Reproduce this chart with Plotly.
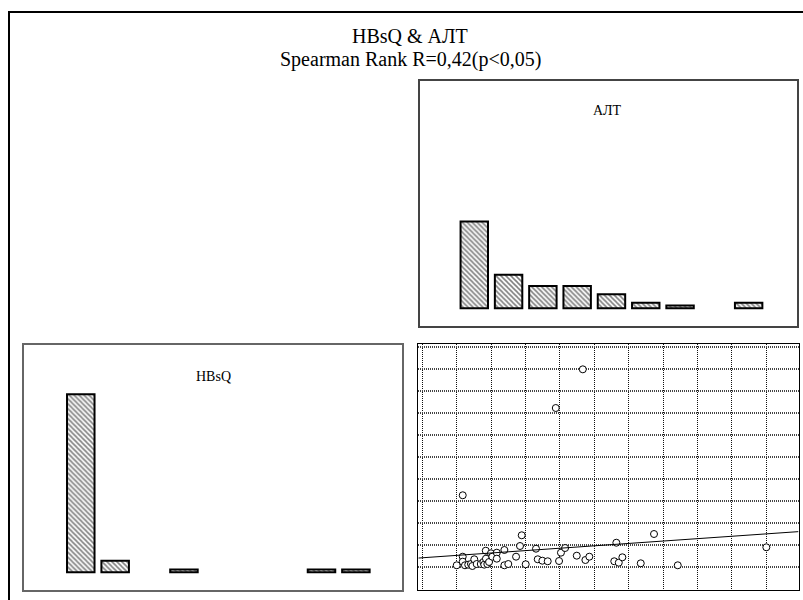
import plotly.graph_objects as go

# ---------------- data ----------------
alt_bins = [1, 2, 3, 4, 5, 6, 7, 8, 9]
alt_counts = [31, 12, 8, 8, 5, 2, 1, None, 2]

hbsq_bins = [1, 2, 3, 4, 5, 6, 7, 8, 9]
hbsq_counts = [62, 4, None, 1, None, None, None, 1, 1]

# scatter: x = АЛТ, y = HBsQ
alt_vals = [23.5, 93.3, 77.6, 20.0, 23.5, 23.5, 24.8, 26.7, 28.3, 29.1, 30.2, 31.6,
            34.0, 35.5, 36.0, 36.9, 37.0, 37.8, 38.8, 39.9, 40.7, 43.3, 43.3, 47.7,
            47.7, 50.0, 54.5, 56.8, 57.8, 60.1, 66.1, 67.1, 69.8, 72.9, 79.5, 80.6,
            83.0, 89.8, 94.8, 97.1, 111.6, 112.8, 114.2, 116.3, 127.0, 134.7, 148.5, 200.0]
hbsq_vals = [2131, 4986, 4109, 544, 739, 626, 544, 558, 573, 528, 680, 573,
             573, 619, 558, 875, 694, 573, 619, 816, 739, 830, 694, 891,
             544, 573, 739, 981, 1224, 567, 920, 680, 648, 635, 641, 830,
             936, 762, 664, 739, 635, 1056, 603, 725, 589, 1253, 544, 952]

fit_intercept = 714.5
fit_slope = 2.708
fit_x = [-2.3, 218.7]

title_line1 = "HBsQ & АЛТ"
title_line2 = "Spearman Rank R=0,42(p<0,05)"

W, H = 803, 600


def fx(px):
    return px / W


def fy(py):
    return 1 - py / H


fig = go.Figure()

bar_style = dict(
    marker=dict(color="white", line=dict(color="black", width=2),
                pattern=dict(shape="\\", fgcolor="black", bgcolor="white",
                             size=3.5, solidity=0.45)),
    width=0.8, showlegend=False, hoverinfo="skip",
)

fig.add_trace(go.Bar(x=alt_bins, y=alt_counts, xaxis="x", yaxis="y", **bar_style))
fig.add_trace(go.Bar(x=hbsq_bins, y=hbsq_counts, xaxis="x2", yaxis="y2", **bar_style))

fig.add_trace(go.Scatter(
    x=alt_vals, y=hbsq_vals, mode="markers", xaxis="x3", yaxis="y3",
    marker=dict(symbol="circle", size=7, color="white",
                line=dict(color="black", width=1)),
    showlegend=False, hoverinfo="skip", cliponaxis=False))

fig.add_trace(go.Scatter(
    x=fit_x, y=[fit_intercept + fit_slope * v for v in fit_x],
    mode="lines", xaxis="x3", yaxis="y3",
    line=dict(color="black", width=1), showlegend=False, hoverinfo="skip"))

hidden = dict(visible=False, showgrid=False, zeroline=False, fixedrange=True)

fig.update_layout(
    width=W, height=H,
    margin=dict(l=0, r=0, t=0, b=0),
    paper_bgcolor="white", plot_bgcolor="white",
    font=dict(family="Liberation Serif, Times New Roman, serif", color="black"),
    bargap=0.2,
    xaxis=dict(domain=[fx(419), fx(797)], range=[-0.612, 10.41], anchor="y", **hidden),
    yaxis=dict(domain=[fy(320), fy(80)], range=[-4.18, 81.5], anchor="x", **hidden),
    xaxis2=dict(domain=[fx(23), fx(403)], range=[-0.68, 10.37], anchor="y2", **hidden),
    yaxis2=dict(domain=[fy(585), fy(344)], range=[-4.43, 79.5], anchor="x2", **hidden),
    xaxis3=dict(domain=[fx(418.3), fx(798.5)], range=[-2.33, 218.7], anchor="y3",
                showline=True, mirror=True, linecolor="black", linewidth=1,
                showgrid=True, gridcolor="#111", griddash="1px,1px", gridwidth=1,
                tick0=0, dtick=20, showticklabels=False, ticks="", zeroline=False),
    yaxis3=dict(domain=[fy(590), fy(344)], range=[-16, 5560], anchor="x3",
                showline=True, mirror=True, linecolor="black", linewidth=1,
                showgrid=True, gridcolor="#444", griddash="1px,1px", gridwidth=1.5,
                tick0=0, dtick=500, showticklabels=False, ticks="", zeroline=False),
    shapes=[
        # outer frame
        dict(type="rect", xref="paper", yref="paper", x0=fx(9), x1=fx(812),
             y0=fy(612), y1=fy(12), line=dict(color="black", width=2)),
        # АЛТ panel
        dict(type="rect", xref="paper", yref="paper", x0=fx(419), x1=fx(798),
             y0=fy(327), y1=fy(80), line=dict(color="#444", width=2)),
        # HBsQ panel
        dict(type="rect", xref="paper", yref="paper", x0=fx(23), x1=fx(403),
             y0=fy(591), y1=fy(344), line=dict(color="#666", width=2)),
    ],
    annotations=[
        dict(text=title_line1, xref="paper", yref="paper", x=fx(410), y=fy(36),
             xanchor="center", yanchor="middle", showarrow=False, font=dict(size=20)),
        dict(text=title_line2, xref="paper", yref="paper", x=fx(410), y=fy(59),
             xanchor="center", yanchor="middle", showarrow=False, font=dict(size=20)),
        dict(text="АЛТ", xref="paper", yref="paper", x=fx(607), y=fy(110.5),
             xanchor="center", yanchor="middle", showarrow=False, font=dict(size=14)),
        dict(text="HBsQ", xref="paper", yref="paper", x=fx(213.5), y=fy(376.5),
             xanchor="center", yanchor="middle", showarrow=False, font=dict(size=14)),
    ],
)

fig.write_html("out.html", config={"displayModeBar": False},
               post_script="document.body.style.margin='0';document.body.style.overflow='hidden';")
